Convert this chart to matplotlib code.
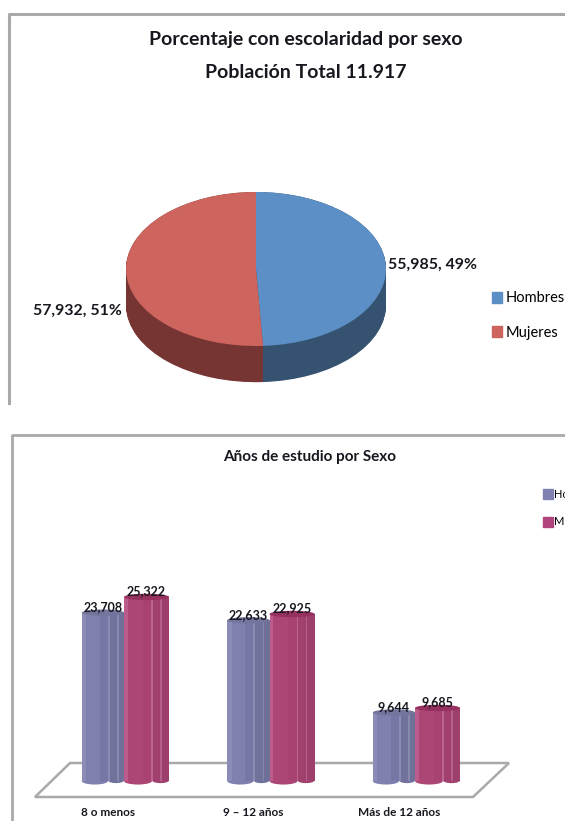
import numpy as np
import matplotlib
matplotlib.use('Agg')
import matplotlib.pyplot as plt
from matplotlib.patches import Ellipse, Polygon, Patch

plt.rcParams['font.family'] = ['Lato', 'DejaVu Sans']
plt.rcParams['font.weight'] = 'bold'

# pie data
sexos = ['Hombres', 'Mujeres']
poblacion = [55985, 57932]

# bar data
categorias = ['8 o menos', '9 – 12 años', 'Más de 12 años']
hombres = [23708, 22633, 9644]
mujeres = [25322, 22925, 9685]

W, H = 565, 821
TEXT = '#17171f'
FRAME = '#a9a9a9'


def axes_px(fig, left, top, right, bottom):
    """
    Add axes placed by pixel edges, measured from the top left of the figure.
    """
    return fig.add_axes([left / W, 1 - bottom / H, (right - left) / W, (bottom - top) / H])


def draw_pie(fig, values):
    """
    Pie squashed into an ellipse, with darker copies stacked below it as the side wall.
    """
    ax = axes_px(fig, 126, 192, 386, 346)
    for drop in np.linspace(0.47, 0.0, 48):
        ax.pie(values, startangle=90, counterclock=False, center=(0, -drop),
               colors=['#355370', '#763533'], wedgeprops={'linewidth': 0})
    ax.pie(values, startangle=90, counterclock=False,
           colors=['#5c8fc5', '#cd645e'], wedgeprops={'linewidth': 0})
    ax.set_aspect('auto')
    ax.set_xlim(-1, 1)
    ax.set_ylim(-1, 1)
    for wedge in ax.patches:
        wedge.set_clip_on(False)


def draw_series(ax, x, values, width, stripes, cap, lift):
    """
    One cylinder per category: vertical stripes for the shading, ellipses for top and base.
    """
    for xi, value in zip(x, values):
        left = xi - width / 2
        # rounded feet, the rear ridges sit a little higher than the front lobe
        front = 0.62 * width
        ax.add_patch(Ellipse((left + front + (width - front) / 2, 100), width - front, 800,
                             color=stripes[4][2], linewidth=0))
        ax.add_patch(Ellipse((left + front / 2, 0), front, 1000, color=stripes[1][2], linewidth=0))
        for start, end, color in stripes:
            ax.bar(left + start * width, value, width=(end - start) * width, bottom=lift,
                   align='edge', color=color, linewidth=0)
            if lift:
                ax.bar(left + start * width, lift, width=(end - start) * width,
                       align='edge', color=color, linewidth=0)
        ax.add_patch(Ellipse((xi, value + lift), width, 900, color=cap, linewidth=0))
        ax.text(xi, value + lift + 800, f'{value:,}', ha='center', va='center',
                fontsize=9, color=TEXT)


def draw_bars(fig):
    """
    Grouped cylinders standing on the floor, value axis scaled to 0.0071 px per person.
    """
    ax = axes_px(fig, 51.25, 580, 487.75, 790)
    ax.patch.set_visible(False)
    x = np.arange(len(categorias))
    draw_series(ax, x - 0.145, hombres, 0.29,
                [(0, 0.1, '#8b8cb8'), (0.1, 0.42, '#7f80b0'), (0.42, 0.62, '#7677a4'),
                 (0.62, 0.66, '#8b8cb4'), (0.66, 0.84, '#71729c'), (0.84, 0.88, '#8788ae'),
                 (0.88, 1, '#6f7098')],
                '#74749c', 0)
    draw_series(ax, x + 0.155, mujeres, 0.31,
                [(0, 0.08, '#bb5c8c'), (0.08, 0.42, '#ac4775'), (0.42, 0.6, '#a84371'),
                 (0.6, 0.64, '#bb6490'), (0.64, 0.8, '#a2406d'), (0.8, 0.84, '#b65f8a'),
                 (0.84, 1, '#9c3f6a')],
                '#96305f', 600)
    ax.set_xlim(-0.5, 2.5)
    ax.set_ylim(-1268, 28310)
    ax.set_xticks(x - 0.11, categorias)
    ax.set_yticks([])
    ax.tick_params(axis='x', length=0, pad=12, labelsize=8.5, labelcolor=TEXT)
    for spine in ax.spines.values():
        spine.set_visible(False)


fig = plt.figure(figsize=(W / 100, H / 100), dpi=100, facecolor='white')

# frames, floor and titles share one pixel-sized layer
back = fig.add_axes([0, 0, 1, 1])
back.set_xlim(0, W)
back.set_ylim(H, 0)
back.axis('off')
back.plot([9, 9, W], [403, 14, 14], color=FRAME, lw=2.2)
back.plot([12, 12, W], [H, 435, 435], color=FRAME, lw=2)
back.add_patch(Polygon([(70, 763), (509, 763), (473, 797), (35, 797)], closed=True,
                       fill=False, edgecolor=FRAME, lw=1.8))
back.text(306, 40, 'Porcentaje con escolaridad por sexo', ha='center', va='center',
          fontsize=14, color=TEXT)
back.text(306, 72, 'Población Total 11.917', ha='center', va='center',
          fontsize=14, color=TEXT)
back.text(310, 457, 'Años de estudio por Sexo', ha='center', va='center',
          fontsize=11, color=TEXT)

total = sum(poblacion)
back.text(388, 265, f'{poblacion[0]:,}, {poblacion[0] / total:.0%}', ha='left', va='center',
          fontsize=11.4, color=TEXT)
back.text(33, 311, f'{poblacion[1]:,}, {poblacion[1] / total:.0%}', ha='left', va='center',
          fontsize=11.4, color=TEXT)

draw_pie(fig, poblacion)
draw_bars(fig)

pie_keys = [Patch(color='#5c8fc5', label=sexos[0]), Patch(color='#cd645e', label=sexos[1])]
fig.legend(handles=pie_keys, loc='upper left', bbox_to_anchor=(488 / W, 1 - 287 / H), frameon=False,
           handlelength=0.69, handleheight=0.75, handletextpad=0.2,
           labelspacing=1.4, borderpad=0, borderaxespad=0.3,
           prop={'family': 'Lato', 'size': 10.5, 'weight': 'normal'})

bar_keys = [Patch(color='#7f80b2', label=sexos[0]), Patch(color='#b0447c', label=sexos[1])]
fig.legend(handles=bar_keys, loc='upper left', bbox_to_anchor=(541 / W, 1 - 487 / H), frameon=False,
           handlelength=0.9, handleheight=1.0, handletextpad=0.1, labelspacing=1.45,
           borderpad=0, borderaxespad=0.2,
           prop={'family': 'Lato', 'size': 8, 'weight': 'normal'})

fig.savefig('out.png', dpi=100)
